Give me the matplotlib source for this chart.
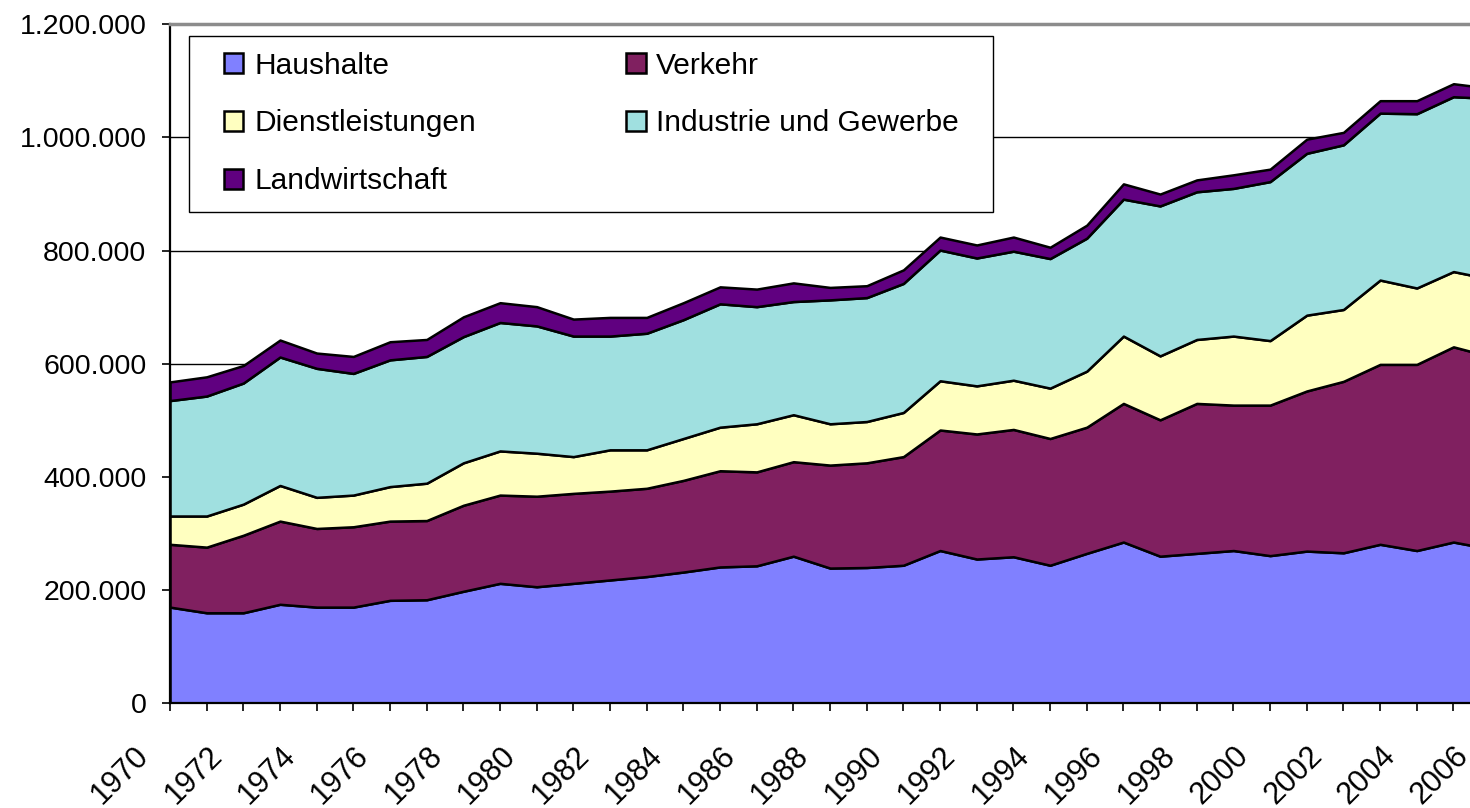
import numpy as np
import matplotlib
matplotlib.use("Agg")
import matplotlib.pyplot as plt
import matplotlib.transforms as mtransforms
from matplotlib.patches import Rectangle
from matplotlib.ticker import FuncFormatter, MultipleLocator, StrMethodFormatter

plt.rcParams["font.family"] = ["Liberation Sans", "DejaVu Sans"]

# --- data (in thousands) ---
years = list(range(1970, 2007))
haushalte = [170, 160, 160, 175, 170, 170, 182, 183, 198, 212, 206, 212, 218, 224, 232, 241, 243, 260, 239,
             240, 244, 270, 255, 259, 244, 265, 285, 260, 265, 270, 261, 269, 266, 281, 270, 285, 273]
verkehr = [111, 116, 137, 147, 139, 142, 140, 140, 152, 156, 160, 159, 157, 156, 162, 170, 166, 167, 182,
           185, 192, 213, 221, 225, 224, 223, 245, 241, 265, 257, 266, 283, 303, 318, 329, 345, 340]
dienstleistungen = [50, 55, 55, 63, 55, 56, 61, 66, 75, 78, 76, 65, 73, 68, 74, 77, 85, 83, 73,
                    73, 78, 87, 85, 87, 89, 99, 119, 113, 113, 122, 114, 134, 127, 149, 135, 133, 137]
industrie = [204, 212, 214, 227, 228, 215, 224, 224, 223, 227, 225, 213, 201, 206, 210, 218, 207, 200, 219,
             219, 228, 231, 226, 228, 229, 235, 242, 265, 261, 261, 281, 286, 291, 295, 308, 309, 319]
landwirtschaft = [33, 34, 31, 30, 27, 30, 32, 30, 35, 35, 34, 30, 33, 28, 30, 30, 31, 33, 22,
                  21, 24, 23, 23, 25, 20, 23, 27, 21, 21, 24, 22, 25, 22, 22, 23, 23, 18]

labels = ["Haushalte", "Verkehr", "Dienstleistungen", "Industrie und Gewerbe", "Landwirtschaft"]
colors = ["#8080ff", "#802060", "#ffffc0", "#a0e0e0", "#600080"]

series = [np.array(s) * 1000 for s in (haushalte, verkehr, dienstleistungen, industrie, landwirtschaft)]

# --- figure ---
W, H = 1470, 808
fig = plt.figure(figsize=(W / 100, H / 100), dpi=100)
px_year = 36.67
# plot area runs past the right edge, like the cropped original
ax = fig.add_axes([170 / W, (H - 703.3) / H, 36 * px_year / W, 679 / H])

polys = ax.stackplot(years, *series, colors=colors, labels=labels,
                     edgecolor="black", linewidth=1.8)

ax.set_xlim(1970, 2006)
ax.set_ylim(0, 1_200_000)
ax.yaxis.set_major_locator(MultipleLocator(200_000))
ax.yaxis.set_major_formatter(FuncFormatter(lambda v, p: f"{int(v):,}".replace(",", ".")))
ax.xaxis.set_major_locator(MultipleLocator(2))
ax.xaxis.set_minor_locator(MultipleLocator(1))
ax.xaxis.set_major_formatter(StrMethodFormatter("{x:.0f}"))

ax.grid(axis="y", color="black", linewidth=1)
ax.set_axisbelow(True)

for side in ("left", "bottom"):
    ax.spines[side].set_linewidth(1.6)
ax.spines["top"].set_color("#8c8c8c")
ax.spines["top"].set_linewidth(2.5)
ax.spines["right"].set_visible(False)

ax.tick_params(axis="both", which="both", direction="out", length=6, width=1.2, color="black")
ax.tick_params(axis="y", labelsize=20.5, pad=11)
ax.tick_params(axis="x", labelsize=22, pad=21)

shift = mtransforms.ScaledTranslation(-0.15, 0, fig.dpi_scale_trans)
for lbl in ax.get_xticklabels():
    lbl.set_rotation(45)
    lbl.set_ha("right")
    lbl.set_va("top")
    lbl.set_transform(lbl.get_transform() + shift)

# legend box (white, hides the grid line behind it)
fig.add_artist(Rectangle((189 / W, 1 - 211.7 / H), (993 - 189) / W, (211.7 - 35.7) / H,
                         transform=fig.transFigure, facecolor="white",
                         edgecolor="black", linewidth=1, zorder=3))
order = [0, 2, 4, 1, 3]
fig.legend([polys[i] for i in order], [labels[i] for i in order],
           loc="upper left", bbox_to_anchor=(224 / W, 1 - 51.5 / H),
           ncol=2, frameon=False, fontsize=21.5, borderpad=0, borderaxespad=0,
           handlelength=0.65, handleheight=0.65, handletextpad=0.36,
           labelspacing=1.0, columnspacing=5.03)

fig.savefig("out.png", dpi=100)
